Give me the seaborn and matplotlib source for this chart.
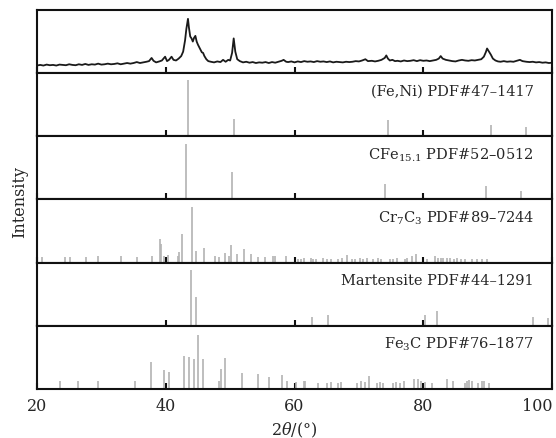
import numpy as np
import pandas as pd
import seaborn as sns
import matplotlib.pyplot as plt

# measured XRD pattern (2theta in deg, intensity in % of panel)
two_theta = [20.0, 20.5, 21.0, 21.5, 22.0, 22.5, 23.0, 23.5, 24.0, 24.5, 25.0, 25.5, 26.0, 26.5, 27.0,
             27.5, 28.0, 28.5, 29.0, 29.5, 30.0, 30.5, 31.0, 31.5, 32.0, 32.5, 33.0, 33.5, 34.0, 34.5,
             35.0, 35.5, 36.0, 36.5, 37.0, 37.4, 37.8, 38.1, 38.5, 39.0, 39.4, 39.9, 40.2, 40.5, 40.9,
             41.2, 41.6, 42.0, 42.4, 42.7, 43.0, 43.2, 43.45, 43.6, 43.8, 44.0, 44.2, 44.4, 44.6, 44.8,
             45.0, 45.2, 45.4, 45.6, 45.8, 46.0, 46.3, 46.6, 47.0, 47.5, 48.0, 48.5, 48.9, 49.3, 49.7,
             50.0, 50.3, 50.55, 50.8, 51.1, 51.5, 52.0, 52.5, 53.0, 53.5, 54.0, 54.5, 55.0, 55.5, 56.0,
             56.5, 57.0, 57.5, 58.0, 58.3, 58.7, 59.0, 59.5, 60.0, 60.5, 61.0, 61.5, 62.0, 62.5, 63.0,
             63.5, 64.0, 64.5, 65.0, 65.5, 66.0, 66.5, 67.0, 67.5, 68.0, 68.5, 69.0, 69.5, 70.0, 70.5,
             71.0, 71.4, 72.0, 72.5, 73.0, 73.5, 74.0, 74.25, 74.5, 74.8, 75.2, 75.6, 76.0, 76.5, 77.0,
             77.5, 78.0, 78.5, 79.0, 79.5, 80.0, 80.5, 81.0, 81.5, 82.0, 82.4, 82.7, 83.0, 83.5, 84.0,
             84.5, 85.0, 85.5, 86.0, 86.5, 87.0, 87.5, 88.0, 88.5, 89.0, 89.4, 89.7, 89.9, 90.2, 90.5,
             90.8, 91.2, 91.6, 92.0, 92.5, 93.0, 93.5, 94.0, 94.5, 95.0, 95.4, 96.0, 96.5, 97.0, 97.5,
             98.0, 98.5, 99.0, 99.5, 100.0]
intensity = [12, 13, 12, 13.5, 12.5, 13, 12, 13.5, 13, 12.5, 14, 13, 12.5, 14, 13,
             14.5, 13, 14, 13.5, 15, 13.5, 14, 15, 14, 14.5, 15.5, 14, 15, 16, 15,
             16, 17.5, 16, 17, 18, 19, 24, 19.5, 17, 18.5, 20, 26, 19, 21, 26,
             21, 20, 23, 27, 34, 52, 70, 86, 72, 58, 55, 50, 56, 59, 50,
             45, 41, 37, 33, 32, 27, 22, 19, 18, 17, 18.5, 17.5, 21, 18, 21,
             20, 32, 55, 34, 22, 19, 17, 18, 16.5, 17.5, 16, 17, 16.5, 17.5, 16,
             17.5, 16.5, 18, 19.5, 21, 18, 17.5, 18.5, 17, 18.5, 17.5, 19, 18, 18.5, 17.5,
             19, 18, 18.5, 17.5, 18.5, 17, 18, 17.5, 17, 18, 17.5, 18, 19, 18.5, 20,
             22, 19, 19.5, 18.5, 19.5, 21, 24, 28, 23, 20, 21, 19, 19.5, 18.5, 20,
             19, 19.5, 20.5, 19, 20.5, 19.5, 20, 19, 20, 21, 23, 27, 23, 21, 20,
             19, 18.5, 20, 21, 20, 19.5, 20.5, 20, 21, 22, 26, 33, 39, 34, 29,
             23, 20, 18.5, 18, 19, 18, 18.5, 18, 19.5, 21, 19, 18, 17.5, 18, 17,
             17.5, 16.5, 17, 16, 16.5]

# reference cards
feni_pos = [43.45, 50.55, 74.5, 90.5, 95.9]
feni_h = [89, 28, 26, 18, 14]

cfe_pos = [43.15, 50.3, 74.1, 89.75, 95.1]
cfe_h = [87, 43, 24, 22, 14]

cr7c3_pos = [20.85, 24.35, 25.2, 27.6, 29.4, 33.0, 35.5, 37.8, 39.1, 39.3, 39.8, 40.4, 41.85, 42.05,
             42.45, 44.05, 44.65, 46.0, 47.65, 48.3, 49.2, 49.8, 50.15, 51.0, 52.1, 53.2, 54.4, 55.4,
             56.6, 57.0, 58.7, 60.6, 60.95, 61.4, 62.5, 62.9, 63.3, 64.4, 65.0, 65.6, 66.8, 67.3,
             68.1, 68.9, 69.4, 70.2, 70.7, 71.3, 72.2, 72.9, 73.5, 74.8, 75.3, 75.9, 77.1, 77.4,
             78.2, 78.9, 80.5, 81.8, 82.3, 82.7, 83.1, 83.6, 84.1, 84.7, 85.2, 85.9, 86.4, 87.5,
             88.3, 89.1, 89.9]
cr7c3_h = [8, 8, 8, 9, 10, 11, 9, 10, 37, 30, 10, 12, 11, 17,
           45, 88, 19, 23, 11, 9, 15, 10, 27, 13, 21, 14, 9, 9,
           10, 10, 10, 6, 6, 7, 7, 6, 6, 7, 6, 6, 6, 7,
           12, 6, 6, 7, 6, 7, 6, 7, 6, 6, 6, 7, 6, 7,
           10, 13, 6, 10, 7, 7, 7, 7, 7, 6, 7, 6, 6, 5,
           5, 5, 5]

mart_pos = [43.92, 44.75, 62.7, 65.25, 80.3, 82.1, 97.0, 99.3]
mart_h = [88, 46, 14, 17, 17, 24, 13, 12]

fe3c_pos = [23.6, 26.3, 29.4, 35.2, 37.65, 39.8, 40.55, 42.85, 43.65, 44.45, 44.95, 45.8, 48.3,
            48.6, 49.2, 51.8, 54.4, 56.0, 58.1, 58.8, 60.3, 61.4, 61.7, 63.7, 65.0, 65.6, 66.8,
            67.2, 69.7, 70.3, 71.0, 71.5, 72.8, 73.3, 73.8, 75.3, 75.8, 76.4, 76.95, 78.5, 79.1,
            79.6, 80.2, 81.4, 83.6, 84.6, 86.4, 86.8, 87.1, 87.5, 88.5, 89.1, 89.4, 90.2]
fe3c_h = [13, 13, 13, 13, 42, 30, 27, 52, 50, 48, 86, 48, 13,
          32, 49, 25, 23, 18, 22, 12, 11, 13, 12, 10, 10, 11, 10,
          11, 10, 12, 11, 20, 10, 11, 10, 10, 11, 10, 12, 16, 15,
          12, 11, 10, 16, 13, 10, 13, 14, 12, 10, 13, 13, 9]

cards = [
    ('(Fe,Ni) PDF#47\u20131417', feni_pos, feni_h),
    ('CFe$_{15.1}$ PDF#52\u20130512', cfe_pos, cfe_h),
    ('Cr$_7$C$_3$ PDF#89\u20137244', cr7c3_pos, cr7c3_h),
    ('Martensite PDF#44\u20131291', mart_pos, mart_h),
    ('Fe$_3$C PDF#76\u20131877', fe3c_pos, fe3c_h),
]

sns.set_style('ticks')
plt.rcParams['font.family'] = ['DejaVu Serif']
plt.rcParams['mathtext.fontset'] = 'dejavuserif'

fig, axes = plt.subplots(6, 1, sharex=True, figsize=(5.56, 4.39), dpi=100)
fig.subplots_adjust(left=0.0665, right=0.993, top=0.975, bottom=0.112, hspace=0)

pattern = pd.DataFrame({'2theta': two_theta, 'I': intensity})
sns.lineplot(data=pattern, x='2theta', y='I', ax=axes[0], color='#1a1a1a', lw=1.3)

for ax, (label, pos, h) in zip(axes[1:], cards):
    ax.vlines(pos, 0, h, color='#b3b3b3', lw=1.2)
    ax.text(0.965, 0.72, label, transform=ax.transAxes, ha='right', va='center', fontsize=10.5)

for ax in axes:
    ax.set_xlim(20, 100)
    ax.set_ylim(0, 100)
    ax.set_yticks([])
    ax.set_ylabel('')
    ax.set_xlabel('')
    for s in ax.spines.values():
        s.set_linewidth(1.5)
        s.set_color('#111111')
    ax.tick_params(axis='x', direction='in', length=4, width=1.5, color='#111111',
                   labelsize=11.5, pad=6)

axes[-1].set_xticks([20, 40, 60, 80, 100])
axes[-1].get_xticklabels()[-1].set_horizontalalignment('right')
axes[-1].set_xlabel('2$\\theta$/(\u00b0)', fontsize=11.5, labelpad=4)
fig.text(0.035, 0.54, 'Intensity', rotation=90, ha='center', va='center', fontsize=11.5)

plt.savefig('out.png', dpi=100)
